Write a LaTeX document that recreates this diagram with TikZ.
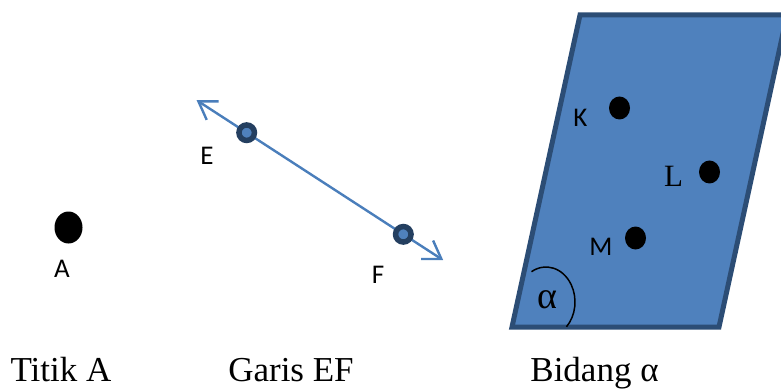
\documentclass[tikz,border=0pt]{standalone}
\usepackage{fontspec}
\setmainfont{Liberation Serif}
\newfontfamily\lblfont{Carlito}
\usetikzlibrary{arrows.meta,calc,shapes.geometric,backgrounds}
\definecolor{lineblue}{HTML}{4A7EBB}
\definecolor{planeblue}{HTML}{4F81BD}
\definecolor{planeedge}{HTML}{2C4D75}
\definecolor{ringedge}{HTML}{243F60}
\begin{document}
\begin{tikzpicture}[x=1pt,y=-1pt,
		dot/.style={ellipse,fill=black,inner sep=0pt,minimum width=21pt,minimum height=23pt},
		ring/.style={circle,draw=ringedge,fill=planeblue,line width=5.5pt,minimum size=15.5pt,inner sep=0pt},
		lbl/.style={font=\lblfont\fontsize{27}{30}\selectfont,inner sep=0pt},
		serif/.style={font=\fontsize{31}{36}\selectfont,inner sep=0pt},
		caption/.style={font=\fontsize{35}{40}\selectfont,inner sep=0pt,anchor=base},
		efline/.style={draw=lineblue,line width=2.4pt,{Straight Barb[length=17pt,width=22pt]}-{Straight Barb[length=17pt,width=22pt]}},
		plane/.style={fill=planeblue,draw=planeedge,line width=5pt,line join=miter}]
	\useasboundingbox (0,0) rectangle (781,390);
	% titik
	\node[dot,minimum width=28pt,minimum height=32pt] (A) at (68.5,227.5) {};
	\node[lbl] (labA) at (62,269) {A};
	\node[caption] (capA) at (61,381) {Titik A};
	% garis
	\node[ring] (E) at (246.7,132.7) {};
	\node[ring] (F) at (403.3,234.3) {};
	\coordinate (endE) at ($(E)!-0.32!(F)$);
	\coordinate (endF) at ($(E)!1.255!(F)$);
	\begin{scope}[on background layer]
		\draw[efline] (endE) -- (endF);
	\end{scope}
	\node[lbl] (labE) at (207,155.5) {E};
	\node[lbl] (labF) at (378,275) {F};
	\node[caption] (capEF) at (291,381) {Garis EF};
	% bidang
	\draw[plane] (512,327) -- (580,15) -- (787,15) -- (719,327) -- cycle;
	\node[dot] (K) at (619.5,108) {};
	\node[dot] (L) at (709.5,172) {};
	\node[dot] (M) at (635.5,238) {};
	\node[lbl] (labK) at (580.5,118) {K};
	\node[serif] (labL) at (673.5,176.5) {L};
	\node[lbl] (labM) at (601,246.5) {M};
	\draw[line width=1.5pt] (531.5,271.7) arc[start angle=-120,end angle=45,x radius=29,y radius=35];
	\node[caption,anchor=center,font=\fontsize{38}{40}\selectfont] (alpha) at (547,300) {α};
	\node[caption] (capB) at (594.5,381) {Bidang α};
\end{tikzpicture}
\end{document}
